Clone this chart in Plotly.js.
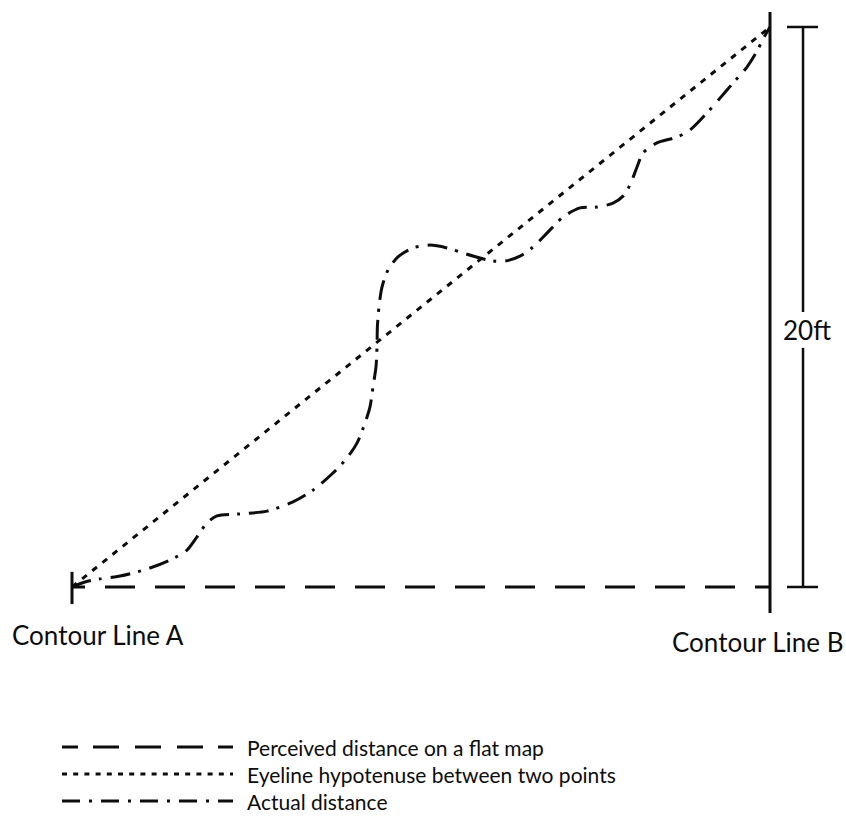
<!DOCTYPE html>
<html><head><meta charset="utf-8">
<script src="https://cdn.plot.ly/plotly-3.0.1.min.js"></script>
<style>html,body{margin:0;padding:0;background:#fff}</style>
</head><body><div id="chart" style="width:846px;height:827px"></div>
<script>
// ---- data (horizontal distance units, elevation in ft) ----
const seriesNames = ["Perceived distance on a flat map", "Eyeline hypotenuse between two points", "Actual distance"];
const contourLabels = ["Contour Line A", "Contour Line B"];
const heightLabel = "20ft";
const contourX = [0, 100];
const elevationFt = [0, 20];

const flatX = [0, 100];
const flatY = [0, 0];
const eyeX = [0, 100];
const eyeY = [0, 20];
const actualX = [0, 1.86, 4.01, 6.88, 10.74, 14.04, 16.48, 17.91, 19.34, 20.77, 24.07, 27.94, 31.66, 34.53, 37.39, 39.4, 40.83, 41.98, 42.69, 43.12, 43.55, 43.70, 43.75, 43.98, 44.41, 45.27, 46.7, 48.85, 51.29, 53.72, 56.02, 58.45, 60.32, 62.03, 64.18, 66.05, 68.05, 70.34, 72.78, 75.21, 77.51, 78.94, 79.94, 80.95, 81.81, 83.81, 86.68, 88.54, 90.97, 92.84, 94.7, 96.7, 98.14, 99.0, 100];
const actualY = [0, 0.18, 0.29, 0.39, 0.64, 0.96, 1.32, 1.79, 2.29, 2.54, 2.61, 2.71, 3.04, 3.46, 4.07, 4.61, 5.14, 5.86, 6.43, 7.14, 7.86, 8.57, 9.29, 10.0, 10.71, 11.32, 11.79, 12.11, 12.21, 12.11, 11.93, 11.75, 11.64, 11.64, 11.82, 12.14, 12.64, 13.21, 13.54, 13.57, 13.71, 13.96, 14.36, 15.0, 15.5, 15.86, 16.07, 16.32, 16.93, 17.46, 18.0, 18.57, 19.14, 19.57, 20];

// ---- styling ----
const INK = '#0d0d0d';
const FONT = 'Lato, "Noto Sans", sans-serif';
let flatDash = '13px,20px';
for (let i = 0; i < 14; i++) flatDash += ',30px,20px';

const traces = [
  {x: flatX, y: flatY, mode: 'lines', name: seriesNames[0], line: {color: INK, width: 3, dash: flatDash}},
  {x: eyeX, y: eyeY, mode: 'lines', name: seriesNames[1], line: {color: INK, width: 3, dash: '6px,7px'}},
  {x: actualX, y: actualY, mode: 'lines', name: seriesNames[2], line: {color: INK, width: 3, dash: '20px,8px,3px,9px', shape: 'spline', smoothing: 0.8}}
];

const xA = contourX[0], xB = contourX[1];
const elevTop = elevationFt[1], elevBase = elevationFt[0];
const dimX = xB + 4.73;
const shapes = [
  {type: 'line', x0: xA, x1: xA, y0: elevBase - 0.61, y1: elevBase + 0.54, line: {color: INK, width: 3}},
  {type: 'line', x0: xB, x1: xB, y0: elevBase - 0.93, y1: elevTop + 0.54, line: {color: INK, width: 3}},
  {type: 'line', x0: dimX, x1: dimX, y0: elevBase, y1: 8.54, line: {color: INK, width: 2.5}},
  {type: 'line', x0: dimX, x1: dimX, y0: 9.82, y1: elevTop, line: {color: INK, width: 2.5}},
  {type: 'line', x0: dimX - 2.29, x1: dimX + 2.15, y0: elevBase, y1: elevBase, line: {color: INK, width: 2.5}},
  {type: 'line', x0: dimX - 2.29, x1: dimX + 2.15, y0: elevTop, y1: elevTop, line: {color: INK, width: 2.5}}
];

// manual legend (paper coordinates)
const W = 846, H = 827;
const px = v => v / W, py = v => 1 - v / H;
const legRows = [747, 774, 801];
const legDash = [
  '16px,15px,26px,16px,26px,16px,26px,15px,16px,400px',
  '5px,6.2px',
  '18px,9px,3px,9px,18px,9px,3px,9px,18px,9px,3px,9px,18px,9px,3px,9px,18px,400px'
];
legRows.forEach((r, i) => {
  shapes.push({type: 'line', xref: 'paper', yref: 'paper', x0: px(62), x1: px(233), y0: py(r), y1: py(r), line: {color: INK, width: 3, dash: legDash[i]}});
});

const annotations = [
  {x: xA - 8.88, y: -1.71, xanchor: 'left', yanchor: 'middle', text: contourLabels[0], showarrow: false, font: {family: FONT, size: 26, color: INK}},
  {x: xB - 14.33, y: -1.96, xanchor: 'left', yanchor: 'middle', text: contourLabels[1], showarrow: false, font: {family: FONT, size: 26, color: INK}},
  {x: xB + 1.6, y: 9.18, xanchor: 'left', yanchor: 'middle', text: heightLabel, showarrow: false, font: {family: FONT, size: 26, color: INK}}
];
legRows.forEach((r, i) => {
  annotations.push({xref: 'paper', yref: 'paper', x: px(245), y: py(r), xanchor: 'left', yanchor: 'middle', text: seriesNames[i], showarrow: false, font: {family: FONT, size: 21, color: INK}});
});

const layout = {
  width: W, height: H, autosize: false,
  margin: {l: 0, r: 0, t: 0, b: 0, pad: 0},
  paper_bgcolor: '#fff', plot_bgcolor: '#fff',
  showlegend: false,
  xaxis: {range: [-72 / 6.98, (W - 72) / 6.98], visible: false, fixedrange: true},
  yaxis: {range: [-(H - 587) / 28, 587 / 28], visible: false, fixedrange: true},
  shapes: shapes,
  annotations: annotations
};
Plotly.newPlot('chart', traces, layout, {displayModeBar: false, staticPlot: true});
</script>
</body></html>
